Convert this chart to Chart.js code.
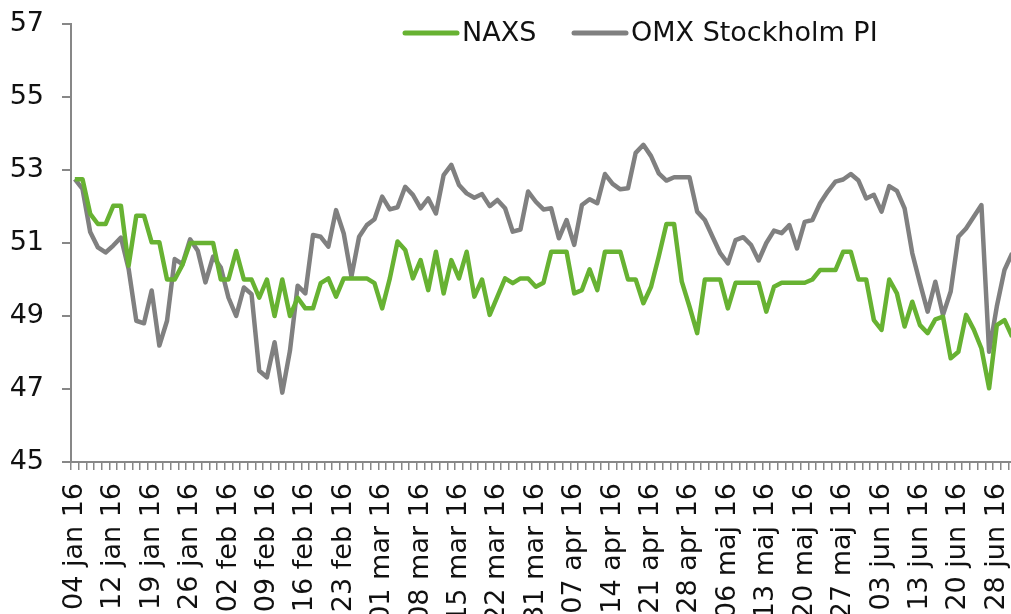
<!DOCTYPE html>
<html>
<head>
<meta charset="utf-8">
<script src="https://cdn.jsdelivr.net/npm/chart.js@4.4.1/dist/chart.umd.min.js"></script>
<style>
  html, body { margin: 0; padding: 0; background: #ffffff; overflow: hidden; width: 1011px; height: 614px; }
  #wrap { position: absolute; left: 0; top: 0; width: 1016px; height: 614px; }
  canvas { display: block; }
</style>
</head>
<body>
<div id="wrap"><canvas id="c" width="1016" height="614"></canvas></div>
<script>
// ---- Data ----
const categories = [
  "04 jan 16","05 jan 16","07 jan 16","08 jan 16","11 jan 16","12 jan 16","13 jan 16","14 jan 16","15 jan 16","18 jan 16",
  "19 jan 16","20 jan 16","21 jan 16","22 jan 16","25 jan 16","26 jan 16","27 jan 16","28 jan 16","29 jan 16",
  "01 feb 16","02 feb 16","03 feb 16","04 feb 16","05 feb 16","08 feb 16","09 feb 16","10 feb 16","11 feb 16","12 feb 16",
  "15 feb 16","16 feb 16","17 feb 16","18 feb 16","19 feb 16","22 feb 16","23 feb 16","24 feb 16","25 feb 16","26 feb 16","29 feb 16",
  "01 mar 16","02 mar 16","03 mar 16","04 mar 16","07 mar 16","08 mar 16","09 mar 16","10 mar 16","11 mar 16","14 mar 16",
  "15 mar 16","16 mar 16","17 mar 16","18 mar 16","21 mar 16","22 mar 16","23 mar 16","24 mar 16","29 mar 16","30 mar 16","31 mar 16",
  "01 apr 16","04 apr 16","05 apr 16","06 apr 16","07 apr 16","08 apr 16","11 apr 16","12 apr 16","13 apr 16","14 apr 16",
  "15 apr 16","18 apr 16","19 apr 16","20 apr 16","21 apr 16","22 apr 16","25 apr 16","26 apr 16","27 apr 16","28 apr 16","29 apr 16",
  "02 maj 16","03 maj 16","04 maj 16","06 maj 16","09 maj 16","10 maj 16","11 maj 16","12 maj 16","13 maj 16","16 maj 16",
  "17 maj 16","18 maj 16","19 maj 16","20 maj 16","23 maj 16","24 maj 16","25 maj 16","26 maj 16","27 maj 16","30 maj 16","31 maj 16",
  "01 jun 16","02 jun 16","03 jun 16","07 jun 16","08 jun 16","09 jun 16","10 jun 16","13 jun 16","14 jun 16","15 jun 16",
  "16 jun 16","17 jun 16","20 jun 16","21 jun 16","22 jun 16","23 jun 16","27 jun 16","28 jun 16","29 jun 16","30 jun 16"
];

const naxs = [
  52.75,52.75,51.8,51.52,51.52,52.02,52.02,50.38,51.75,51.75,
  51.02,51.02,50.0,50.0,50.4,51.0,51.0,51.0,51.0,50.0,
  50.0,50.78,50.0,50.0,49.5,50.0,49.0,50.0,49.0,49.5,
  49.21,49.21,49.9,50.03,49.53,50.03,50.03,50.03,50.03,49.9,
  49.21,50.03,51.04,50.81,50.03,50.53,49.71,50.76,49.62,50.53,
  50.03,50.76,49.53,50.0,49.03,49.53,50.03,49.9,50.03,50.03,
  49.8,49.91,50.76,50.76,50.76,49.62,49.71,50.28,49.71,50.76,
  50.76,50.76,50.0,50.0,49.35,49.8,50.63,51.52,51.52,49.94,
  49.26,48.53,50.0,50.0,50.0,49.21,49.91,49.91,49.91,49.91,
  49.12,49.8,49.91,49.91,49.91,49.91,50.0,50.26,50.26,50.26,
  50.76,50.76,50.0,50.0,48.89,48.62,50.0,49.62,48.71,49.39,
  48.75,48.53,48.91,48.98,47.84,48.02,49.03,48.63,48.11,47.02,
  48.75,48.89,48.43
];

const omx = [
  52.75,52.48,51.3,50.88,50.74,50.93,51.15,50.29,48.87,48.8,
  49.7,48.19,48.87,50.56,50.42,51.1,50.79,49.92,50.63,50.33,
  49.5,49.0,49.78,49.6,47.5,47.32,48.28,46.9,48.05,49.83,
  49.62,51.22,51.17,50.9,51.9,51.26,50.08,51.17,51.49,51.65,
  52.27,51.92,51.98,52.54,52.32,51.95,52.22,51.81,52.86,53.14,
  52.59,52.36,52.24,52.34,52.01,52.18,51.95,51.31,51.37,52.41,
  52.13,51.92,51.95,51.13,51.63,50.95,52.04,52.2,52.09,52.89,
  52.62,52.47,52.5,53.47,53.69,53.38,52.91,52.71,52.8,52.8,
  52.8,51.86,51.63,51.17,50.72,50.44,51.08,51.16,50.95,50.52,
  51.0,51.34,51.27,51.49,50.85,51.58,51.63,52.09,52.41,52.68,
  52.74,52.89,52.71,52.22,52.32,51.86,52.56,52.43,51.95,50.72,
  49.9,49.12,49.94,49.03,49.67,51.17,51.4,51.72,52.04,48.02,
  49.26,50.26,50.72
];

const seriesNames = ["NAXS", "OMX Stockholm PI"];
const seriesColors = ["#67B232", "#808080"];
const yTicks = { min: 45, max: 57, step: 2 };
const labelEvery = 5;

// ---- Styles ----
const FONT = "'DejaVu Sans', Verdana, sans-serif";
const AXIS_COLOR = "#878787";
const TEXT_COLOR = "#111111";

const legendPlugin = {
  id: 'topLegend',
  afterDraw(chart) {
    const ctx = chart.ctx;
    const items = [
      { x0: 405, x1: 457, tx: 462 },
      { x0: 574, x1: 626, tx: 631 }
    ];
    const y = 33;
    ctx.save();
    ctx.font = "27px " + FONT;
    ctx.textBaseline = 'middle';
    ctx.textAlign = 'left';
    chart.data.datasets.forEach((ds, i) => {
      const it = items[i];
      ctx.strokeStyle = ds.borderColor;
      ctx.lineWidth = 5;
      ctx.lineCap = 'round';
      ctx.beginPath();
      ctx.moveTo(it.x0, y);
      ctx.lineTo(it.x1, y);
      ctx.stroke();
      ctx.fillStyle = TEXT_COLOR;
      ctx.fillText(ds.label, it.tx, y + 1);
    });
    ctx.restore();
  }
};

new Chart(document.getElementById('c'), {
  type: 'line',
  data: {
    labels: categories,
    datasets: [
      { label: seriesNames[0], data: naxs, borderColor: seriesColors[0], backgroundColor: seriesColors[0] },
      { label: seriesNames[1], data: omx, borderColor: seriesColors[1], backgroundColor: seriesColors[1] }
    ]
  },
  options: {
    responsive: false,
    animation: false,
    devicePixelRatio: 1,
    layout: { padding: { top: 24, right: 0, left: 0, bottom: 0 } },
    elements: {
      line: { borderWidth: 4.5, tension: 0, borderJoinStyle: 'round', borderCapStyle: 'butt' },
      point: { radius: 0, hoverRadius: 0 }
    },
    plugins: { legend: { display: false }, tooltip: { enabled: false } },
    scales: {
      x: {
        type: 'category',
        offset: true,
        grid: { display: true, drawOnChartArea: false, drawTicks: true, tickLength: 8, offset: true, color: AXIS_COLOR, lineWidth: 1.5 },
        border: { display: true, color: AXIS_COLOR, width: 2 },
        ticks: {
          autoSkip: false,
          minRotation: 90, maxRotation: 90,
          padding: 13,
          color: TEXT_COLOR,
          font: { family: FONT, size: 27 },
          callback: function(v, i) { return i % labelEvery === 0 ? categories[i] : ''; }
        },
        afterFit(scale) { scale.height = 152; scale.paddingLeft = 0; scale.paddingRight = 0; }
      },
      y: {
        min: yTicks.min, max: yTicks.max,
        grid: { display: true, drawOnChartArea: false, drawTicks: true, tickLength: 9, color: AXIS_COLOR, lineWidth: 2 },
        border: { display: true, color: AXIS_COLOR, width: 2 },
        ticks: {
          stepSize: yTicks.step,
          padding: 18,
          color: TEXT_COLOR,
          font: { family: FONT, size: 27 }
        },
        afterFit(scale) { scale.width = 71; scale.paddingTop = 0; scale.paddingBottom = 0; }
      }
    }
  },
  plugins: [legendPlugin]
});
</script>
</body>
</html>
